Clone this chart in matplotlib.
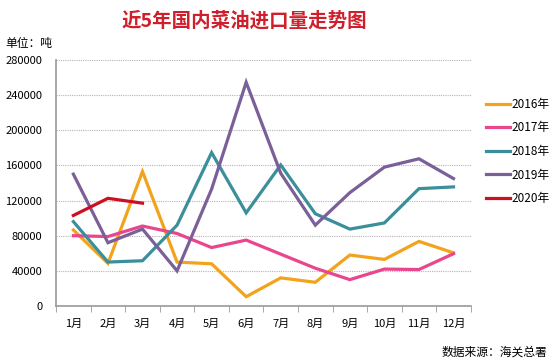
import numpy as np
import matplotlib
matplotlib.use('Agg')
import matplotlib.pyplot as plt

plt.rcParams['font.family'] = ['Noto Sans CJK SC', 'DejaVu Sans']

months = ['1月', '2月', '3月', '4月', '5月', '6月', '7月', '8月', '9月', '10月', '11月', '12月']
y2016 = [86500, 48500, 153000, 50000, 48000, 10600, 32000, 27000, 58000, 53000, 73500, 60500]
y2017 = [80000, 79000, 91000, 82500, 66500, 75000, 59000, 43000, 30000, 42000, 41500, 59500]
y2018 = [96000, 50000, 51500, 92000, 174500, 106000, 160500, 105000, 87500, 94500, 133500, 135500]
y2019 = [150000, 72000, 87500, 40000, 133000, 254500, 151000, 92000, 129000, 158000, 167500, 145000]
y2020 = [103000, 122500, 117000]
yticks = [0, 40000, 80000, 120000, 160000, 200000, 240000, 280000]

series = [('2016年', y2016, '#f2a31b'),
          ('2017年', y2017, '#e9468e'),
          ('2018年', y2018, '#3a8f9b'),
          ('2019年', y2019, '#7b5f98'),
          ('2020年', y2020, '#cc1020')]

fig = plt.figure(figsize=(5.5, 3.63), dpi=100)
ax = fig.add_axes([0.102, 0.157, 0.754, 0.678])

x = np.arange(1, 13)
for name, vals, col in series:
    ax.plot(x[:len(vals)], vals, color=col, lw=2.3, label=name, solid_joinstyle='miter')

ax.set_xlim(0.5, 12.5)
ax.set_ylim(0, 280000)
ax.set_yticks(yticks)
ax.set_yticklabels([str(v) for v in yticks], fontsize=8)
ax.set_xticks(x)
ax.set_xticklabels(months, fontsize=8)
ax.set_xticks(np.arange(0.5, 13, 1), minor=True)
ax.tick_params(axis='x', which='major', length=0, pad=9)
ax.tick_params(axis='x', which='minor', length=4, color='#999999', direction='out')
ax.tick_params(axis='y', length=0, pad=10)
ax.grid(axis='y', linestyle=(0, (1, 1)), color='#b5b5b5', lw=0.8)
ax.set_axisbelow(True)
for s in ['top', 'right']:
    ax.spines[s].set_visible(False)
for s in ['left', 'bottom']:
    ax.spines[s].set_color('#999999')
    ax.spines[s].set_linewidth(1.2)

fig.legend(loc='upper left', bbox_to_anchor=(0.865, 0.76), frameon=False,
           fontsize=8.5, handlelength=2.0, handletextpad=0.15, labelspacing=0.9)

fig.text(0.445, 0.942, '近5年国内菜油进口量走势图', color='#d01f2c', fontsize=14,
         fontweight='bold', ha='center', va='center')
fig.text(0.01, 0.88, '单位：吨', fontsize=8.5, ha='left', va='center')
fig.text(0.995, 0.03, '数据来源：海关总署', fontsize=8.5, style='italic',
         ha='right', va='center')

fig.savefig('out.png', dpi=100)
